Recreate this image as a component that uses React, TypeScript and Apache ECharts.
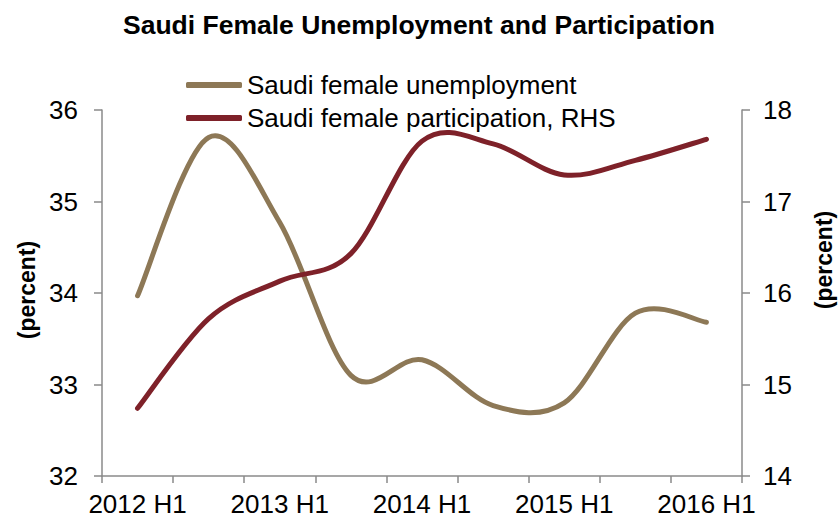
import React, { useEffect, useRef } from "react";
import * as echarts from "echarts";

const categories = ["2012 H1", "2012 H2", "2013 H1", "2013 H2", "2014 H1", "2014 H2", "2015 H1", "2015 H2", "2016 H1"];
const unemployment = [33.97, 35.7, 34.77, 33.1, 33.27, 32.77, 32.8, 33.78, 33.68];
const participation = [14.74, 15.72, 16.13, 16.43, 17.66, 17.63, 17.29, 17.45, 17.68];
const leftTicks = { min: 32, max: 36, interval: 1 };
const rightTicks = { min: 14, max: 18, interval: 1 };

const FONT = "'Liberation Sans', Arial, sans-serif";
const TAN = "#8D7856";
const RED = "#7E2129";
const AXIS = "#8A8A8A";

// Excel-like smoothed line (Catmull-Rom -> cubic Bezier) through points from api.coord
function smoothRenderer(values: number[], color: string) {
  return (params: any, api: any) => {
    if (params.dataIndex !== 0) return null;
    const pts = values.map((v, i) => api.coord([i, v]));
    const n = pts.length;
    let d = `M${pts[0][0]},${pts[0][1]}`;
    for (let i = 0; i < n - 1; i++) {
      const p0 = pts[Math.max(i - 1, 0)];
      const p1 = pts[i];
      const p2 = pts[i + 1];
      const p3 = pts[Math.min(i + 2, n - 1)];
      const c1x = p1[0] + (p2[0] - p0[0]) / 6;
      const c1y = p1[1] + (p2[1] - p0[1]) / 6;
      const c2x = p2[0] - (p3[0] - p1[0]) / 6;
      const c2y = p2[1] - (p3[1] - p1[1]) / 6;
      d += ` C${c1x},${c1y} ${c2x},${c2y} ${p2[0]},${p2[1]}`;
    }
    return {
      type: "path",
      shape: { pathData: d },
      style: { stroke: color, lineWidth: 5, fill: "none", lineCap: "round", lineJoin: "round" },
      silent: true,
    };
  };
}

export default function App() {
  const ref = useRef<HTMLDivElement>(null);
  useEffect(() => {
    if (!ref.current) return;
    const chart = echarts.init(ref.current, null, { renderer: "svg" });
    chart.setOption({
      animation: false,
      backgroundColor: "#ffffff",
      textStyle: { fontFamily: FONT },
      title: {
        text: "Saudi Female Unemployment and Participation",
        left: "center",
        top: 6,
        textStyle: { fontFamily: FONT, fontSize: 26.5, fontWeight: "bold", color: "#000" },
      },
      legend: {
        orient: "vertical",
        left: 181,
        top: 67,
        itemWidth: 56,
        itemHeight: 6,
        itemGap: 7,
        icon: "roundRect",
        textStyle: { fontFamily: FONT, fontSize: 26, color: "#000", lineHeight: 26 },
        data: ["Saudi female unemployment", "Saudi female participation, RHS"],
      },
      grid: { left: 102, right: 96, top: 110, bottom: 45, containLabel: false },
      xAxis: {
        type: "category",
        data: categories,
        boundaryGap: true,
        axisLine: { lineStyle: { color: AXIS, width: 1.5 } },
        axisTick: { show: true, interval: 0, length: 7, lineStyle: { color: AXIS, width: 1.5 } },
        axisLabel: { interval: 1, margin: 15, fontFamily: FONT, fontSize: 26, color: "#000" },
        splitLine: { show: false },
      },
      yAxis: [
        {
          type: "value",
          min: leftTicks.min,
          max: leftTicks.max,
          interval: leftTicks.interval,
          axisLine: { show: true, lineStyle: { color: AXIS, width: 1.5 } },
          axisTick: { show: true, length: 8, lineStyle: { color: AXIS, width: 1.5 } },
          axisLabel: { margin: 24, fontFamily: FONT, fontSize: 26, color: "#000" },
          splitLine: { show: false },
        },
        {
          type: "value",
          position: "right",
          min: rightTicks.min,
          max: rightTicks.max,
          interval: rightTicks.interval,
          axisLine: { show: true, lineStyle: { color: AXIS, width: 1.5 } },
          axisTick: { show: true, length: 8, lineStyle: { color: AXIS, width: 1.5 } },
          axisLabel: { margin: 21, fontFamily: FONT, fontSize: 26, color: "#000" },
          splitLine: { show: false },
        },
      ],
      graphic: [
        {
          type: "text",
          x: 27,
          y: 290,
          rotation: Math.PI / 2,
          style: {
            text: "(percent)",
            fontFamily: FONT,
            fontSize: 23,
            fontWeight: "bold",
            fill: "#000",
            textAlign: "center",
            textVerticalAlign: "middle",
          },
        },
        {
          type: "text",
          x: 824,
          y: 260,
          rotation: Math.PI / 2,
          style: {
            text: "(percent)",
            fontFamily: FONT,
            fontSize: 23,
            fontWeight: "bold",
            fill: "#000",
            textAlign: "center",
            textVerticalAlign: "middle",
          },
        },
      ],
      series: [
        {
          name: "Saudi female unemployment",
          type: "custom",
          yAxisIndex: 0,
          data: unemployment.map((v, i) => [i, v]),
          encode: { x: 0, y: 1 },
          renderItem: smoothRenderer(unemployment, TAN),
          itemStyle: { color: TAN },
        },
        {
          name: "Saudi female participation, RHS",
          type: "custom",
          yAxisIndex: 1,
          data: participation.map((v, i) => [i, v]),
          encode: { x: 0, y: 1 },
          renderItem: smoothRenderer(participation, RED),
          itemStyle: { color: RED },
        },
      ],
    });
    return () => chart.dispose();
  }, []);
  return (
    <div
      ref={ref}
      style={{ position: "fixed", left: 0, top: 0, width: 838, height: 521 }}
    />
  );
}
